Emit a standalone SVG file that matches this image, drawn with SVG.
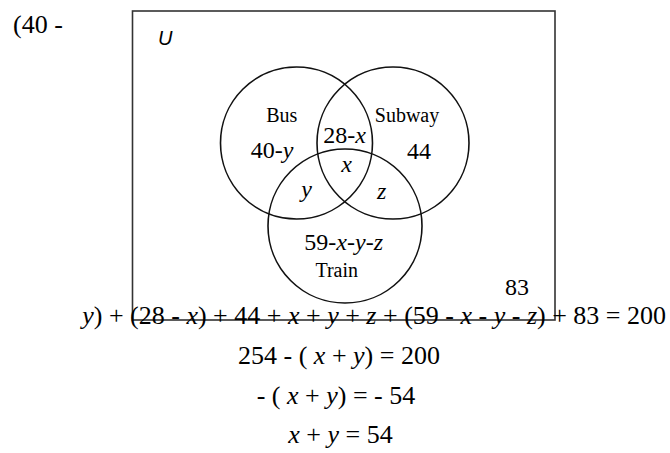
<svg xmlns="http://www.w3.org/2000/svg" width="670" height="453" viewBox="0 0 670 453">
<style>
.t{font-family:"Liberation Serif","Times New Roman",serif;fill:#000}
.lab{font-size:20px;text-anchor:middle}
.val{font-size:24px;text-anchor:middle}
.eq{font-size:26px}
.i{font-style:italic}
.c{fill:none;stroke:#111;stroke-width:1.6}
.box{fill:none;stroke:#333;stroke-width:1.6}
</style>
<rect width="670" height="453" fill="#fff"/>
<g id="universe">
<rect class="box" x="132.5" y="11" width="422.5" height="309"/>
<text x="158" y="45" style="font-family:'Liberation Sans',Arial,sans-serif;font-size:20px;font-style:italic">U</text>
<text class="t val" x="517" y="295" style="text-anchor:middle">83</text>
</g>
<g id="bus">
<circle class="c" cx="296.5" cy="143" r="76"/>
<text class="t lab" x="281.7" y="121.7">Bus</text>
<text class="t val" x="272" y="158.3">40-<tspan class="i">y</tspan></text>
</g>
<g id="subway">
<circle class="c" cx="393" cy="143" r="76"/>
<text class="t lab" x="407" y="121.7">Subway</text>
<text class="t val" x="419" y="159">44</text>
</g>
<g id="train">
<circle class="c" cx="345" cy="226" r="77"/>
<text class="t val" x="343.7" y="250">59-<tspan class="i">x</tspan>-<tspan class="i">y</tspan>-<tspan class="i">z</tspan></text>
<text class="t lab" x="336.7" y="276.7">Train</text>
</g>
<g id="overlaps">
<text class="t val" x="344.7" y="143.3">28-<tspan class="i">x</tspan></text>
<text class="t val i" x="346.7" y="171.7">x</text>
<text class="t val i" x="306.7" y="196.7">y</text>
<text class="t val i" x="381.7" y="199">z</text>
</g>
<g id="connectors"></g>
<g id="equations">
<text class="t eq" x="13" y="33">(40 -</text>
<text class="t eq" x="666" y="324" style="text-anchor:end"><tspan class="i">y</tspan>) + (28 - <tspan class="i">x</tspan>) + 44 + <tspan class="i">x</tspan> + <tspan class="i">y</tspan> + <tspan class="i">z</tspan> + (59 - <tspan class="i">x</tspan> - <tspan class="i">y</tspan> - <tspan class="i">z</tspan>) + 83 = 200</text>
<text class="t eq" x="238" y="364">254 - ( <tspan class="i">x</tspan> + <tspan class="i">y</tspan>) = 200</text>
<text class="t eq" x="256.7" y="404">- ( <tspan class="i">x</tspan> + <tspan class="i">y</tspan>) = - 54</text>
<text class="t eq" x="288.3" y="443"><tspan class="i">x</tspan> + <tspan class="i">y</tspan> = 54</text>
</g>
</svg>
